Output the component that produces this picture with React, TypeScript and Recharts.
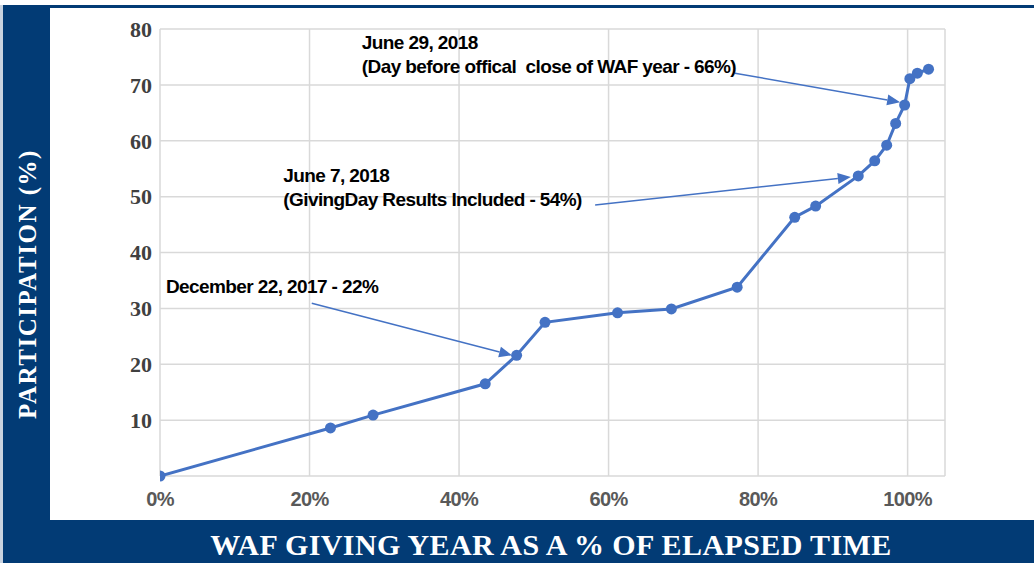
import React from 'react';
import { LineChart, Line, XAxis, YAxis, CartesianGrid, ReferenceLine, ReferenceDot } from 'recharts';

const elapsedPct = [0, 22.8, 28.5, 43.5, 47.7, 51.5, 61.2, 68.4, 77.2, 84.9, 87.7, 93.4, 95.6, 97.2, 98.4, 99.6, 100.3, 101.3, 102.8];
const participation = [0, 8.6, 10.9, 16.5, 21.6, 27.5, 29.2, 29.9, 33.8, 46.3, 48.3, 53.7, 56.4, 59.2, 63.1, 66.4, 71.1, 72.1, 72.8];

const xTicks = [0, 20, 40, 60, 80, 100];
const yTicks = [0, 10, 20, 30, 40, 50, 60, 70, 80];

const annotationLines: string[][] = [
  ['June 29, 2018', '(Day before offical  close of WAF year - 66%)'],
  ['June 7, 2018', '(GivingDay Results Included - 54%)'],
  ['December 22, 2017 - 22%'],
];
const annotationTextX = [27.0, 16.5, 0.8];
const annotationTextY = [76.4, 52.6, 32.7];
const arrowFromX = [76.9, 58.2, 20.3];
const arrowFromY = [72.1, 48.5, 30.9];
const arrowToX = [99.0, 92.4, 47.1];
const arrowToY = [66.9, 53.5, 21.6];

const yTitle = 'PARTICIPATION (%)';
const xTitle = 'WAF GIVING YEAR AS A % OF ELAPSED TIME';

const data = elapsedPct.map((x, i) => ({ x, y: participation[i] }));

const NAVY = '#023b75';
const BLUE = '#4472c4';

const ArrowShape = (props: any) => {
  const x1 = Number(props.x1), y1 = Number(props.y1), x2 = Number(props.x2), y2 = Number(props.y2);
  if ([x1, y1, x2, y2].some((v) => !isFinite(v))) return null;
  const dx = x2 - x1, dy = y2 - y1;
  const len = Math.sqrt(dx * dx + dy * dy) || 1;
  const ux = dx / len, uy = dy / len;
  const hl = 13, hw = 5.5;
  const bx = x2 - ux * hl, by = y2 - uy * hl;
  const pts = `${x2},${y2} ${bx - uy * hw},${by + ux * hw} ${bx + uy * hw},${by - ux * hw}`;
  return (
    <g>
      <line x1={x1} y1={y1} x2={bx} y2={by} stroke={BLUE} strokeWidth={1.5} />
      <polygon points={pts} fill={BLUE} />
    </g>
  );
};

const makeTextShape = (lines: string[]) => (props: any) => {
  const cx = Number(props.cx), cy = Number(props.cy);
  if (!isFinite(cx) || !isFinite(cy)) return null;
  return (
    <text
      x={cx}
      y={cy}
      fill="#000"
      fontFamily="'Liberation Sans', Arial, sans-serif"
      fontWeight="bold"
      fontSize={19}
      letterSpacing={-0.6}
      style={{ whiteSpace: 'pre' }}
    >
      {lines.map((l, i) => (
        <tspan key={i} x={cx} dy={i === 0 ? 0 : 24}>{l}</tspan>
      ))}
    </text>
  );
};

export default function App() {
  return (
    <div style={{ position: 'relative', width: 1034, height: 563, background: '#fff', overflow: 'hidden' }}>
      <style>{`body{margin:0}`}</style>
      <div style={{ position: 'absolute', left: 3, top: 5, width: 1031, height: 3, background: NAVY }} />
      <div style={{ position: 'absolute', left: 3, top: 5, width: 47, height: 558, background: NAVY }} />
      <div style={{ position: 'absolute', left: 3, top: 520, width: 1031, height: 43, background: NAVY }} />
      <div style={{ position: 'absolute', left: 0, top: 5, width: 3, height: 558, background: '#c9d3e0' }} />
      <div
        style={{
          position: 'absolute', left: 27, top: 284, transform: 'translate(-50%, -50%) rotate(-90deg)',
          color: '#fff', fontFamily: "'Liberation Serif', 'Times New Roman', serif", fontWeight: 'bold',
          fontSize: 25, letterSpacing: 1.5, whiteSpace: 'nowrap', lineHeight: 1,
        }}
      >
        {yTitle}
      </div>
      <div
        style={{
          position: 'absolute', left: 551, top: 545, transform: 'translate(-50%, -50%)',
          color: '#fff', fontFamily: "'Liberation Serif', 'Times New Roman', serif", fontWeight: 'bold',
          fontSize: 30, letterSpacing: 0.4, whiteSpace: 'nowrap', lineHeight: 1,
        }}
      >
        {xTitle}
      </div>
      <div style={{ position: 'absolute', left: 0, top: 0 }}>
        <LineChart width={1034} height={563} data={data} margin={{ top: 29, right: 89, bottom: 57, left: 110 }}>
          <CartesianGrid stroke="#d9d9d9" strokeWidth={1.5} horizontal vertical />
          <XAxis
            type="number"
            dataKey="x"
            domain={[0, 105]}
            ticks={xTicks}
            allowDataOverflow
            height={30}
            axisLine={false}
            tickLine={false}
            tickMargin={10}
            tickFormatter={(v: number) => `${v}%`}
            tick={{ fill: '#595959', fontSize: 20, fontWeight: 'bold', fontFamily: "'Liberation Sans', Arial, sans-serif", letterSpacing: -0.6 } as any}
          />
          <YAxis
            type="number"
            domain={[0, 80]}
            ticks={yTicks}
            width={50}
            axisLine={false}
            tickLine={false}
            tickMargin={2}
            tickFormatter={(v: number) => (v === 0 ? '' : String(v))}
            tick={{ fill: '#404040', fontSize: 22, fontWeight: 'bold', fontFamily: "'Liberation Serif', 'Times New Roman', serif" } as any}
          />
          <Line
            dataKey="y"
            stroke={BLUE}
            strokeWidth={3}
            dot={{ r: 5.5, fill: BLUE, stroke: BLUE, strokeWidth: 0 }}
            activeDot={false}
            isAnimationActive={false}
          />
          {arrowFromX.map((fx, i) => (
            <ReferenceLine
              key={`arrow-${i}`}
              segment={[{ x: fx, y: arrowFromY[i] }, { x: arrowToX[i], y: arrowToY[i] }]}
              ifOverflow="visible"
              shape={ArrowShape}
            />
          ))}
          {annotationLines.map((lines, i) => (
            <ReferenceDot
              key={`text-${i}`}
              x={annotationTextX[i]}
              y={annotationTextY[i]}
              r={0}
              ifOverflow="visible"
              shape={makeTextShape(lines)}
            />
          ))}
        </LineChart>
      </div>
    </div>
  );
}
